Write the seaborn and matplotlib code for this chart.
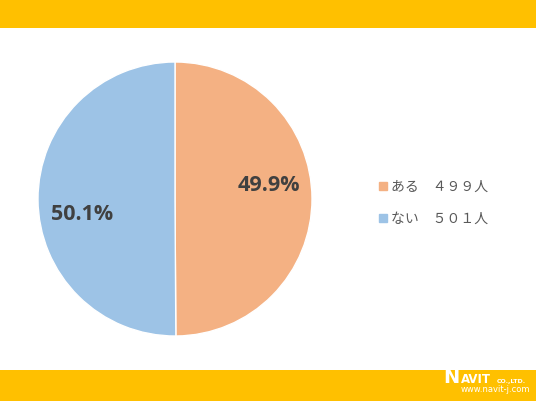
import numpy as np
import matplotlib
matplotlib.use("Agg")
import matplotlib.pyplot as plt
import seaborn as sns
from matplotlib.patches import Rectangle
from matplotlib.lines import Line2D

# データ
labels = ['ある', 'ない']
counts = [499, 501]
percents = [49.9, 50.1]
legend_texts = ['ある　４９９人', 'ない　５０１人']
colors = ['#F4B183', '#9DC3E6']

sns.set_theme(style='white')
plt.rcParams['font.family'] = ['Noto Sans CJK JP', 'DejaVu Sans']

fig = plt.figure(figsize=(5.36, 4.01), dpi=100)
fig.patch.set_facecolor('white')

# 上下の帯
fig.add_artist(Rectangle((0, 1 - 28 / 401), 1, 28 / 401, transform=fig.transFigure,
                         facecolor='#FFC000', edgecolor='none'))
fig.add_artist(Rectangle((0, 0), 1, 31 / 401, transform=fig.transFigure,
                         facecolor='#FFC000', edgecolor='none'))

# 円グラフ
ax = fig.add_axes([(175 - 137) / 536, (401 - 199 - 137) / 401, 274 / 536, 274 / 401])
wedges, texts, autotexts = ax.pie(counts, colors=colors, startangle=90, counterclock=False,
                                  autopct=lambda p: f'{p:.1f}%', pctdistance=0.69,
                                  wedgeprops=dict(linewidth=1, edgecolor='white'))
ax.set_xlim(-1, 1)
ax.set_ylim(-1, 1)
ax.set_aspect('equal')

# ラベル位置を少し調整（元図に合わせる）
offsets = [8, 9]
for t, w, off in zip(autotexts, wedges, offsets):
    ang = np.deg2rad((w.theta1 + w.theta2) / 2 + off)
    t.set_position((0.69 * np.cos(ang), 0.69 * np.sin(ang)))
    t.set_fontsize(15.5)
    t.set_fontweight('bold')
    t.set_family('Open Sans')
    t.set_color('#404040')

# 凡例
handles = [Line2D([0], [0], marker='s', linestyle='none', markersize=6,
                  markerfacecolor=c, markeredgecolor=c) for c in colors]
fig.legend(handles, legend_texts, loc='center left', bbox_to_anchor=(366 / 536, 1 - 203 / 401),
           frameon=False, fontsize=10, labelcolor='#595959', handlelength=0.6,
           handletextpad=0.3, labelspacing=1.3)

# ロゴ
base = 1 - 383 / 401
fig.text(443 / 536, base, 'N', color='white', fontsize=14, fontweight='bold',
         family='DejaVu Sans', va='baseline', ha='left')
fig.text(461 / 536, base, 'AVIT', color='white', fontsize=8.5, fontweight='bold',
         family='DejaVu Sans', va='baseline', ha='left')
fig.text(497 / 536, base, 'CO.,LTD.', color='white', fontsize=4.5, fontweight='bold',
         family='DejaVu Sans', va='baseline', ha='left')
fig.text(461 / 536, 1 - 390 / 401, 'www.navit-j.com', color='white', fontsize=6,
         family='DejaVu Sans', va='center', ha='left')

fig.savefig('out.png', dpi=100)
